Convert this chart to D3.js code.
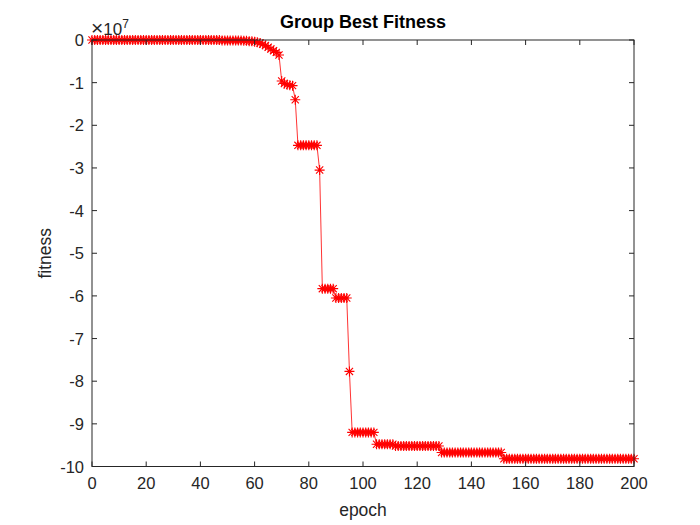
<!DOCTYPE html>
<html>
<head>
<meta charset="utf-8">
<script src="https://cdn.jsdelivr.net/npm/d3@7"></script>
<style>
  body { margin: 0; background: #fff; }
  svg { display: block; font-family: "Liberation Sans", Arial, sans-serif; }
</style>
</head>
<body>
<script>
// best fitness per epoch, in units of 1e7
var fitness = [
   0,     0,     0,     0,     0,     0,     0,     0,     0,     0,
   0,     0,     0,     0,     0,     0,     0,     0,     0,     0,
   0,     0,     0,     0,     0,     0,     0,     0,     0,     0,
   0,     0,     0,     0,     0,     0,     0,     0,     0,     0,
   0,     0,     0,     0,     0,     0,     0,     0, -0.01, -0.01,
  -0.01, -0.01, -0.01, -0.01, -0.01, -0.01, -0.02, -0.02, -0.03, -0.03,
  -0.04, -0.05, -0.07, -0.10, -0.13, -0.17, -0.21, -0.25, -0.29, -0.35,
  -0.96, -1.02, -1.05, -1.06, -1.07, -1.40, -2.47, -2.47, -2.47, -2.47,
  -2.47, -2.47, -2.47, -2.47, -3.05, -5.83, -5.83, -5.83, -5.83, -5.83,
  -6.05, -6.05, -6.05, -6.05, -6.05, -7.77, -9.20, -9.20, -9.20, -9.20,
  -9.20, -9.20, -9.20, -9.20, -9.20, -9.48, -9.48, -9.48, -9.48, -9.48,
  -9.48, -9.48, -9.52, -9.52, -9.52, -9.52, -9.52, -9.52, -9.52, -9.52,
  -9.52, -9.52, -9.52, -9.52, -9.52, -9.52, -9.52, -9.52, -9.52, -9.67,
  -9.67, -9.67, -9.67, -9.67, -9.67, -9.67, -9.67, -9.67, -9.67, -9.67,
  -9.67, -9.67, -9.67, -9.67, -9.67, -9.67, -9.67, -9.67, -9.67, -9.67,
  -9.67, -9.67, -9.82, -9.82, -9.82, -9.82, -9.82, -9.82, -9.82, -9.82,
  -9.82, -9.82, -9.82, -9.82, -9.82, -9.82, -9.82, -9.82, -9.82, -9.82,
  -9.82, -9.82, -9.82, -9.82, -9.82, -9.82, -9.82, -9.82, -9.82, -9.82,
  -9.82, -9.82, -9.82, -9.82, -9.82, -9.82, -9.82, -9.82, -9.82, -9.82,
  -9.82, -9.82, -9.82, -9.82, -9.82, -9.82, -9.82, -9.82, -9.82, -9.82,
  -9.82
];
var xTicks = [0, 20, 40, 60, 80, 100, 120, 140, 160, 180, 200];
var yTicks = [0, -1, -2, -3, -4, -5, -6, -7, -8, -9, -10];

var w = 700, h = 525,
    pLeft = 92, pRight = 634, pTop = 40, pBottom = 466.5,
    axisColor = "#262626",
    red = "#ff0000";

var x = d3.scaleLinear().domain([0, 200]).range([pLeft, pRight]);
var y = d3.scaleLinear().domain([-10, 0]).range([pBottom, pTop]);

var svg = d3.select("body").append("svg")
    .attr("width", w)
    .attr("height", h);

// data line
var line = d3.line()
    .x(function(d, i) { return x(i); })
    .y(function(d) { return y(d); });

svg.append("path")
    .datum(fitness)
    .attr("fill", "none")
    .attr("stroke", red)
    .attr("stroke-width", 0.8)
    .attr("d", line);

// '*' markers
var r = 5, rd = r * 0.72;
var star = "M" + (-r) + ",0H" + r + "M0," + (-r) + "V" + r +
    "M" + (-rd) + "," + (-rd) + "L" + rd + "," + rd +
    "M" + (-rd) + "," + rd + "L" + rd + "," + (-rd);

svg.append("g").selectAll("path")
    .data(fitness)
  .enter().append("path")
    .attr("transform", function(d, i) { return "translate(" + x(i) + "," + y(d) + ")"; })
    .attr("d", star)
    .attr("fill", "none")
    .attr("stroke", red)
    .attr("stroke-width", 1.1);

// box and ticks
var tl = 5;
svg.append("rect")
    .attr("x", pLeft).attr("y", pTop)
    .attr("width", pRight - pLeft).attr("height", pBottom - pTop)
    .attr("fill", "none")
    .attr("stroke", axisColor)
    .attr("stroke-width", 1);

var xt = svg.append("g").selectAll("g").data(xTicks).enter().append("g");
xt.append("line")
    .attr("x1", function(d) { return x(d); }).attr("x2", function(d) { return x(d); })
    .attr("y1", pBottom).attr("y2", pBottom - tl)
    .attr("stroke", axisColor);
xt.append("line")
    .attr("x1", function(d) { return x(d); }).attr("x2", function(d) { return x(d); })
    .attr("y1", pTop).attr("y2", pTop + tl)
    .attr("stroke", axisColor);
xt.append("text")
    .attr("x", function(d) { return x(d); })
    .attr("y", pBottom + 22)
    .attr("text-anchor", "middle")
    .attr("font-size", 16.5)
    .attr("fill", axisColor)
    .text(function(d) { return d; });

var yt = svg.append("g").selectAll("g").data(yTicks).enter().append("g");
yt.append("line")
    .attr("x1", pLeft).attr("x2", pLeft + tl)
    .attr("y1", function(d) { return y(d); }).attr("y2", function(d) { return y(d); })
    .attr("stroke", axisColor);
yt.append("line")
    .attr("x1", pRight).attr("x2", pRight - tl)
    .attr("y1", function(d) { return y(d); }).attr("y2", function(d) { return y(d); })
    .attr("stroke", axisColor);
yt.append("text")
    .attr("x", pLeft - 8)
    .attr("y", function(d) { return y(d) + 6; })
    .attr("text-anchor", "end")
    .attr("font-size", 16.5)
    .attr("fill", axisColor)
    .text(function(d) { return d === 0 ? "0" : "-" + Math.abs(d); });

// exponent
var ex = svg.append("text")
    .attr("x", pLeft - 1)
    .attr("y", pTop - 5)
    .attr("font-size", 17)
    .attr("fill", axisColor);
ex.append("tspan").attr("font-size", 21).attr("font-weight", 300).text("\u00d7");
ex.append("tspan").text("10");
ex.append("tspan").attr("font-size", 12).attr("dy", -7).text("7");

// titles
svg.append("text")
    .attr("x", (pLeft + pRight) / 2)
    .attr("y", 28)
    .attr("text-anchor", "middle")
    .attr("font-size", 18)
    .attr("font-weight", "bold")
    .attr("fill", "#000")
    .text("Group Best Fitness");

svg.append("text")
    .attr("x", (pLeft + pRight) / 2)
    .attr("y", 516)
    .attr("text-anchor", "middle")
    .attr("font-size", 17.5)
    .attr("fill", axisColor)
    .text("epoch");

svg.append("text")
    .attr("transform", "translate(51," + ((pTop + pBottom) / 2) + ") rotate(-90)")
    .attr("text-anchor", "middle")
    .attr("font-size", 17.5)
    .attr("fill", axisColor)
    .text("fitness");
</script>
</body>
</html>
